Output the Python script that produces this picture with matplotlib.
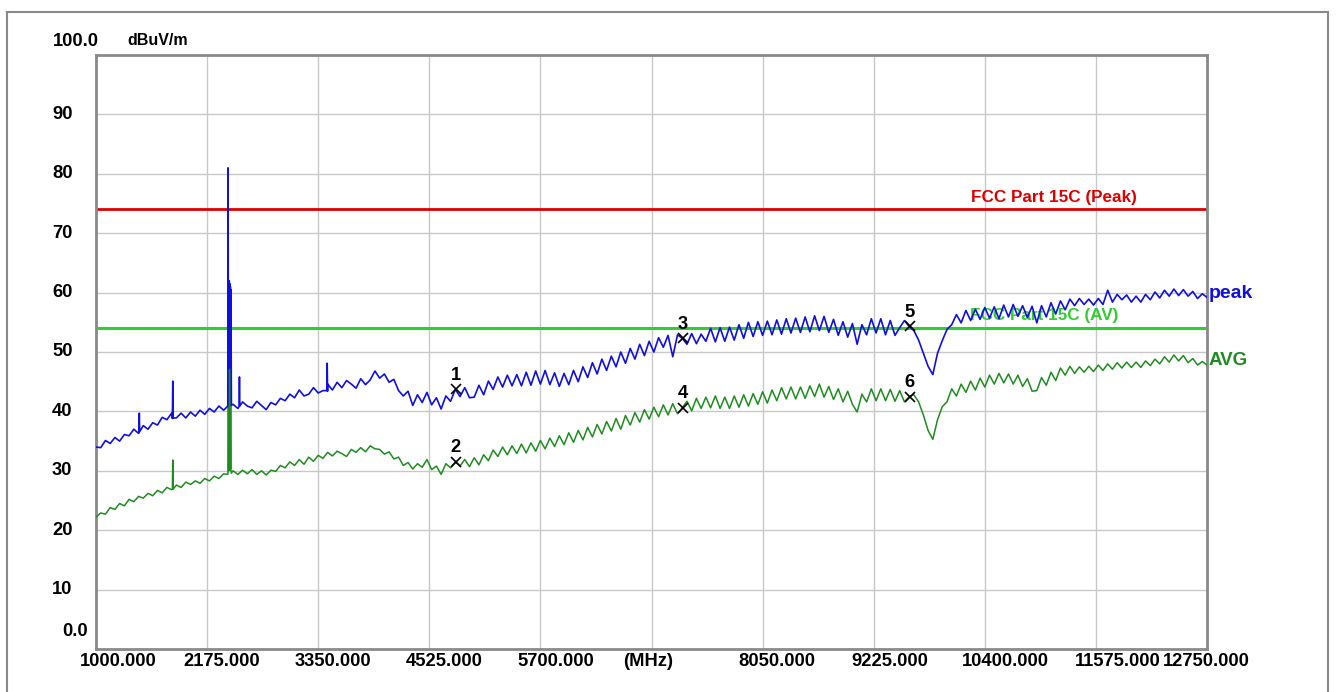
import numpy as np
import matplotlib
matplotlib.use("Agg")
import matplotlib.pyplot as plt
from matplotlib.lines import Line2D
from matplotlib.transforms import offset_copy

plt.rcParams['font.family'] = ['Liberation Sans', 'DejaVu Sans']

# Sweep: 1000 - 12750 MHz, one reading every 50 MHz
START_MHZ = 1000
STOP_MHZ = 12750
STEP_MHZ = 50

PEAK_DB = [
    # 1000 - 1450
    34.0, 33.9, 35.1, 34.6, 35.6, 35.0, 36.1, 35.9, 37.0, 36.3,
    # 1500 - 1950
    37.6, 37.0, 38.1, 37.7, 39.0, 38.6, 39.7, 38.9, 39.7, 38.9,
    # 2000 - 2450
    39.9, 39.2, 40.2, 39.5, 40.5, 39.9, 40.9, 40.2, 47.5, 41.2,
    # 2500 - 2950
    40.5, 41.6, 40.9, 40.6, 41.7, 41.0, 40.3, 41.5, 41.1, 42.2,
    # 3000 - 3450
    41.8, 42.9, 42.3, 43.6, 42.6, 42.9, 44.0, 43.1, 43.5, 44.6,
    # 3500 - 3950
    43.6, 44.9, 44.0, 45.2, 44.6, 43.9, 45.5, 44.5, 45.3, 46.8,
    # 4000 - 4450
    45.6, 46.3, 44.9, 45.4, 43.5, 42.6, 43.4, 41.0, 42.8, 41.5,
    # 4500 - 4950
    43.2, 41.1, 42.3, 40.4, 42.6, 41.7, 43.7, 42.5, 44.0, 42.3,
    # 5000 - 5450
    42.4, 44.4, 42.8, 45.1, 43.7, 45.8, 44.1, 46.1, 44.3, 46.2,
    # 5500 - 5950
    44.3, 46.6, 44.4, 46.8, 44.6, 46.9, 44.5, 46.5, 44.2, 46.4,
    # 6000 - 6450
    44.5, 46.9, 45.0, 47.5, 45.7, 48.2, 46.3, 48.8, 46.9, 49.3,
    # 6500 - 6950
    47.5, 50.0, 48.1, 50.6, 48.8, 51.3, 49.4, 51.8, 50.0, 52.4,
    # 7000 - 7450
    50.8, 52.8, 49.2, 52.9, 52.3, 51.3, 53.1, 51.4, 53.0, 51.8,
    # 7500 - 7950
    54.0, 51.7, 54.1, 51.8, 54.2, 52.0, 54.6, 52.3, 55.0, 52.6,
    # 8000 - 8450
    55.1, 52.8, 55.2, 52.9, 55.4, 53.0, 55.6, 53.2, 55.7, 53.3,
    # 8500 - 8950
    55.9, 53.4, 56.1, 53.6, 56.0, 53.3, 55.5, 52.8, 55.1, 52.5,
    # 9000 - 9450
    54.8, 51.3, 54.6, 52.9, 55.6, 53.2, 55.6, 52.9, 55.3, 52.8,
    # 9500 - 9950
    54.1, 55.3, 54.3, 53.6, 52.0, 49.8, 47.6, 46.2, 49.8, 51.9,
    # 10000 - 10450
    53.8, 54.6, 56.3, 54.9, 57.0, 55.3, 57.2, 55.5, 57.5, 55.7,
    # 10500 - 10950
    57.6, 55.6, 57.9, 55.9, 58.0, 56.0, 57.8, 55.8, 57.7, 54.9,
    # 11000 - 11450
    57.8, 55.9, 58.3, 56.4, 58.6, 57.1, 58.9, 57.8, 59.0, 58.0,
    # 11500 - 11950
    58.9, 57.9, 59.0, 58.0, 60.4, 58.4, 59.7, 58.8, 59.6, 58.4,
    # 12000 - 12450
    59.4, 58.4, 59.7, 58.8, 60.1, 59.1, 60.4, 59.4, 60.6, 59.5,
    # 12500 - 12750
    60.5, 59.4, 60.2, 59.0, 59.8, 59.2,
]

AVG_DB = [
    # 1000 - 1450
    22.2, 22.9, 22.7, 23.8, 23.5, 24.5, 24.1, 25.2, 24.8, 25.7,
    # 1500 - 1950
    25.4, 26.2, 25.8, 26.7, 26.3, 27.2, 26.8, 27.6, 27.2, 28.1,
    # 2000 - 2450
    27.7, 28.3, 27.9, 28.7, 28.3, 29.1, 28.7, 29.5, 47.8, 30.0,
    # 2500 - 2950
    29.4, 30.1, 29.5, 30.2, 29.4, 30.0, 29.3, 30.1, 29.9, 30.9,
    # 3000 - 3450
    30.5, 31.5, 30.9, 31.9, 31.1, 32.3, 31.6, 32.6, 32.1, 33.1,
    # 3500 - 3950
    32.5, 33.3, 32.9, 32.4, 33.6, 33.1, 33.9, 33.2, 34.2, 33.7,
    # 4000 - 4450
    33.6, 32.8, 33.2, 32.0, 32.3, 30.9, 31.4, 30.3, 31.2, 30.6,
    # 4500 - 4950
    31.9, 30.2, 30.8, 29.4, 31.2, 30.5, 31.5, 30.8, 31.9, 30.7,
    # 5000 - 5450
    32.2, 31.0, 32.7, 31.7, 33.5, 32.4, 34.0, 32.7, 34.2, 32.9,
    # 5500 - 5950
    34.5, 33.0, 34.7, 33.3, 35.1, 33.7, 35.5, 34.1, 35.9, 34.4,
    # 6000 - 6450
    36.4, 34.8, 36.8, 35.2, 37.3, 35.7, 37.8, 36.2, 38.3, 36.7,
    # 6500 - 6950
    38.8, 37.0, 39.3, 37.7, 39.8, 38.2, 40.3, 38.7, 40.7, 39.1,
    # 7000 - 7450
    41.1, 39.4, 41.3, 39.6, 40.6, 41.7, 40.1, 42.2, 40.5, 42.4,
    # 7500 - 7950
    40.6, 42.6, 40.5, 42.4, 40.5, 42.6, 40.7, 42.8, 40.9, 43.0,
    # 8000 - 8450
    41.2, 43.3, 41.4, 43.6, 41.8, 44.0, 42.1, 44.1, 42.1, 44.1,
    # 8500 - 8950
    42.2, 44.3, 42.5, 44.6, 42.4, 44.2, 42.0, 43.8, 41.6, 43.4,
    # 9000 - 9450
    41.2, 39.9, 42.9, 41.6, 43.8, 41.8, 43.8, 41.8, 43.7, 41.7,
    # 9500 - 9950
    43.5, 41.6, 42.5, 42.8, 41.6, 39.4, 36.8, 35.3, 38.6, 40.8,
    # 10000 - 10450
    41.6, 43.8, 42.6, 44.6, 43.2, 45.1, 43.6, 45.6, 44.1, 46.1,
    # 10500 - 10950
    44.6, 46.4, 44.8, 46.3, 44.6, 46.1, 44.2, 45.5, 43.4, 43.5,
    # 11000 - 11450
    45.7, 44.4, 46.6, 45.2, 47.3, 46.1, 47.6, 46.4, 47.5, 46.6,
    # 11500 - 11950
    47.6, 46.7, 47.8, 46.9, 48.0, 47.1, 48.2, 47.3, 48.3, 47.4,
    # 12000 - 12450
    48.3, 47.4, 48.5, 47.7, 48.8, 48.0, 49.2, 48.3, 49.5, 48.5,
    # 12500 - 12750
    49.4, 48.2, 48.9, 47.8, 48.4, 47.8,
]

# narrow spurs and the 2.4 GHz carrier, read between the sweep points
PEAK_SPUR_MHZ = [1454, 1458, 1462, 1808, 1812, 1816,
                 2394, 2397, 2403, 2406, 2409, 2412, 2415, 2418, 2421, 2424, 2427, 2432,
                 2513, 2517, 2521, 3441, 3445, 3449]
PEAK_SPUR_DB = [36.4, 39.7, 36.6, 38.8, 45.1, 38.9,
                40.9, 81.0, 61.8, 47.2, 62.0, 47.6, 61.5, 47.4, 61.0, 47.8, 60.5, 41.0,
                40.8, 45.8, 40.9, 43.5, 48.1, 43.4]
AVG_SPUR_MHZ = [1808, 1812, 1816,
                2394, 2397, 2403, 2406, 2409, 2412, 2415, 2418, 2421, 2424, 2427, 2432]
AVG_SPUR_DB = [26.9, 31.8, 26.9,
               29.4, 29.8, 30.0, 47.6, 30.2, 47.5, 30.1, 47.2, 30.3, 47.0, 30.0, 29.6]

# limits
LIMIT_PEAK = 74.0
LIMIT_AV = 54.0

# harmonics marked on the two traces
MARK_MHZ = [4804, 7206, 9608]
PEAK_MARK_DB = [43.7, 52.3, 54.3]
AVG_MARK_DB = [31.5, 40.6, 42.5]
PEAK_MARK_NO = ["1", "3", "5"]
AVG_MARK_NO = ["2", "4", "6"]

X_TICKS = [1000, 2175, 3350, 4525, 5700, 6875, 8050, 9225, 10400, 11575, 12750]
X_LABELS = ["1000.000", "2175.000", "3350.000", "4525.000", "5700.000", "(MHz)",
            "8050.000", "9225.000", "10400.000", "11575.000", "12750.000"]
X_LABEL_SHIFT = [22, 15, 15, 15, 15, -3, 14, 16, 21, 22, -1]   # px
Y_TICKS = [10, 20, 30, 40, 50, 60, 70, 80, 90]

FS = 13.2


def trace(levels, spur_mhz, spur_db):
    f = np.arange(START_MHZ, STOP_MHZ + 1, STEP_MHZ)
    f = np.concatenate([f, spur_mhz])
    v = np.concatenate([levels, spur_db])
    order = np.argsort(f, kind="stable")
    return f[order], v[order]


fig = plt.figure(figsize=(13.36, 6.92), dpi=100)
ax = fig.add_axes([96 / 1336, 43 / 692, 1111 / 1336, 594 / 692])
ax.set_xlim(START_MHZ, STOP_MHZ)
ax.set_ylim(0, 100)
ax.set_xticks(X_TICKS)
ax.set_yticks(Y_TICKS)
ax.tick_params(length=0, labelbottom=False, labelleft=False)
ax.grid(True, color="#c8c8c8", lw=1, zorder=0)
ax.set_axisbelow(True)
for s in ax.spines.values():
    s.set_color("#8a8a8a")
    s.set_linewidth(2)

# limit lines
ax.axhline(LIMIT_PEAK, color="#dd0000", lw=2, zorder=1)
ax.axhline(LIMIT_AV, color="#33cc33", lw=2.2, zorder=1)
ax.text(11130, LIMIT_PEAK + 0.7, "FCC Part 15C (Peak)", color="#dd0000",
        fontsize=12.3, fontweight="bold", ha="center", va="bottom", zorder=2)
ax.text(11024, LIMIT_AV + 2.1, "FCC Part 15C (AV)", color="#33cc33",
        fontsize=12.3, fontweight="bold", ha="center", va="center", zorder=2)

# traces
f_avg, v_avg = trace(AVG_DB, AVG_SPUR_MHZ, AVG_SPUR_DB)
f_pk, v_pk = trace(PEAK_DB, PEAK_SPUR_MHZ, PEAK_SPUR_DB)
ax.plot(f_avg, v_avg, color="#1f8c1f", lw=1.1, zorder=3)
ax.plot(f_pk, v_pk, color="#1010dd", lw=1.2, zorder=4)

right = offset_copy(ax.transData, fig=fig, x=2, y=0, units="dots")
ax.text(STOP_MHZ, PEAK_DB[-1] + 0.6, "peak", color="#1010dd", fontsize=14,
        fontweight="bold", ha="left", va="center", transform=right)
ax.text(STOP_MHZ, AVG_DB[-1] + 0.7, "AVG", color="#1f8c1f", fontsize=13.5,
        fontweight="bold", ha="left", va="center", transform=right)

# harmonic markers
for levels, names in [(PEAK_MARK_DB, PEAK_MARK_NO), (AVG_MARK_DB, AVG_MARK_NO)]:
    ax.plot(MARK_MHZ, levels, "x", color="black", ms=7.5, mew=1.2, zorder=5)
    for f, v, n in zip(MARK_MHZ, levels, names):
        ax.annotate(n, (f, v), xytext=(0, 14), textcoords="offset pixels",
                    ha="center", va="center", fontsize=FS, fontweight="bold",
                    zorder=6)

# axis labels drawn as text, like the analyser printout
ytr = ax.get_yaxis_transform()
for v in Y_TICKS:
    ax.text(-44 / 1111, v, str(v), transform=ytr, ha="left", va="center",
            fontsize=FS, fontweight="bold")
ax.text(-43 / 1111, 102.2, "100.0", transform=ytr, ha="left", va="center",
        fontsize=FS, fontweight="bold")
ax.text(-34 / 1111, 3.0, "0.0", transform=ytr, ha="left", va="center",
        fontsize=FS, fontweight="bold")
ax.text(31 / 1111, 102.5, "dBuV/m", transform=ytr,
        ha="left", va="center", fontsize=11.5, fontweight="bold")

for t, lab, dx in zip(X_TICKS, X_LABELS, X_LABEL_SHIFT):
    tr = offset_copy(ax.get_xaxis_transform(), fig=fig, x=dx, y=-12, units="dots")
    ax.text(t, 0, lab, transform=tr, ha="center", va="center",
            fontsize=FS, fontweight="bold")

# printout frame
frame = dict(color="#8a8a8a", lw=1.5)
fig.add_artist(Line2D([7 / 1336, 1328 / 1336], [1 - 12 / 692, 1 - 12 / 692], **frame))
fig.add_artist(Line2D([7 / 1336, 7 / 1336], [0, 1 - 12 / 692], **frame))
fig.add_artist(Line2D([1328 / 1336, 1328 / 1336], [0, 1 - 12 / 692], **frame))

fig.savefig("out.png", dpi=100)
